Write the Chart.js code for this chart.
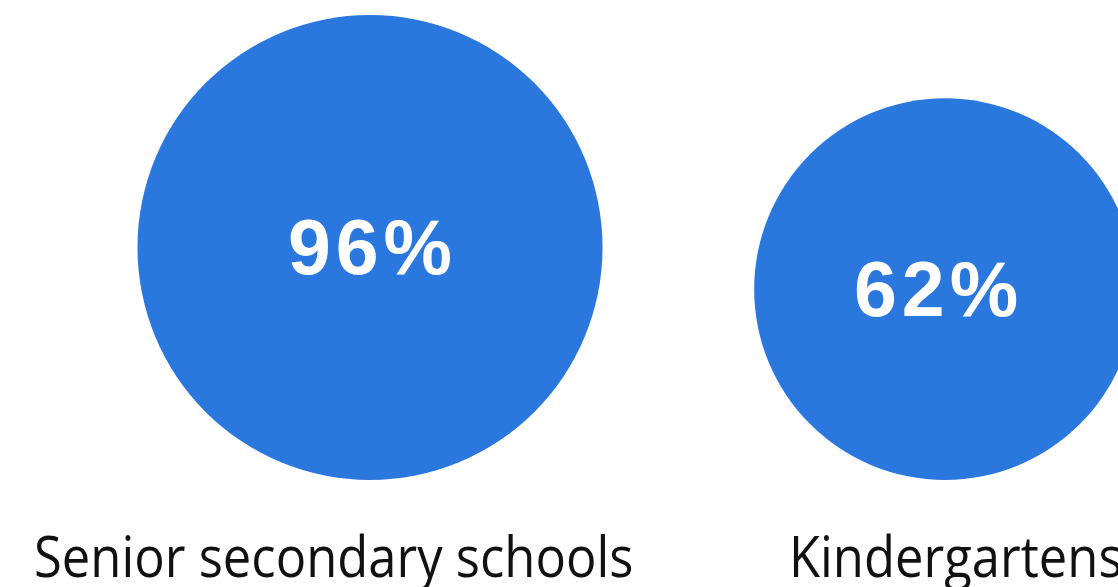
<!DOCTYPE html>
<html>
<head>
<meta charset="utf-8">
<script src="https://cdn.jsdelivr.net/npm/chart.js@4.4.1/dist/chart.umd.min.js"></script>
<style>
  html, body { margin: 0; padding: 0; background: #ffffff; overflow: hidden; }
  #wrap { width: 1118px; height: 587px; }
</style>
</head>
<body>
<div id="wrap"><canvas id="chart" width="1118" height="587"></canvas></div>
<script>
// Share of institutions, one bubble per category
const categories = ['Senior secondary schools', 'Kindergartens'];
const shares = [96, 62];
const shareLabels = ['96%', '62%'];

// Bubble radius follows a square-root scale of the share
const RADIUS_BASE = 20.2;
const RADIUS_PER_SQRT = 21.67;
const radiusOf = v => RADIUS_BASE + RADIUS_PER_SQRT * Math.sqrt(v);

const BUBBLE_BLUE = '#2a77de';

// Bubbles sit on a common baseline: with 1 y-unit = 1 px, centre height = radius
const points = shares.map((v, i) => ({ x: i, y: radiusOf(v), r: radiusOf(v), v }));

// Percentages centred on the visible part of each bubble
const valueLabelPlugin = {
  id: 'valueLabels',
  afterDatasetsDraw(chart) {
    const ctx = chart.ctx;
    const meta = chart.getDatasetMeta(0);
    const spacing = 5;
    ctx.save();
    ctx.fillStyle = '#ffffff';
    ctx.font = 'bold 77px "Liberation Sans", Arial, sans-serif';
    ctx.letterSpacing = spacing + 'px';
    ctx.textAlign = 'center';
    ctx.textBaseline = 'alphabetic';
    meta.data.forEach((el, i) => {
      const r = el.options.radius;
      const left = Math.max(el.x - r, 0);
      const right = Math.min(el.x + r, chart.width);
      const cx = (left + right) / 2 + spacing / 2;
      ctx.fillText(shareLabels[i], cx, el.y + 27);
    });
    ctx.restore();
  }
};

// Category names under the bubbles, set in a slightly condensed face
const categoryLabelPlugin = {
  id: 'categoryLabels',
  afterDraw(chart, args, opts) {
    const ctx = chart.ctx;
    const xs = chart.scales.x;
    categories.forEach((c, i) => {
      ctx.save();
      ctx.fillStyle = '#111111';
      ctx.font = opts.font;
      ctx.textAlign = 'left';
      ctx.textBaseline = 'alphabetic';
      ctx.translate(xs.getPixelForValue(opts.anchors[i]), chart.chartArea.bottom + opts.baselineGap);
      ctx.scale(opts.condense, 1);
      ctx.fillText(c, 0, 0);
      ctx.restore();
    });
  }
};

new Chart(document.getElementById('chart'), {
  type: 'bubble',
  data: {
    datasets: [{
      data: points,
      backgroundColor: BUBBLE_BLUE,
      hoverBackgroundColor: BUBBLE_BLUE,
      borderWidth: 0,
      hoverBorderWidth: 0,
      clip: false
    }]
  },
  options: {
    responsive: false,
    devicePixelRatio: 1,
    animation: false,
    events: [],
    layout: { autoPadding: false, padding: { top: 0, left: 0, right: 0, bottom: 107 } },
    scales: {
      x: { type: 'linear', display: false, min: -0.6435, max: 1.3009 },
      y: { type: 'linear', display: false, min: 0, max: 480 }
    },
    plugins: {
      legend: { display: false },
      tooltip: { enabled: false },
      categoryLabels: {
        font: '57px "Open Sans", sans-serif',
        condense: 0.89,
        anchors: [-0.5843, 0.7287],
        baselineGap: 97
      }
    }
  },
  plugins: [valueLabelPlugin, categoryLabelPlugin]
});
</script>
</body>
</html>
